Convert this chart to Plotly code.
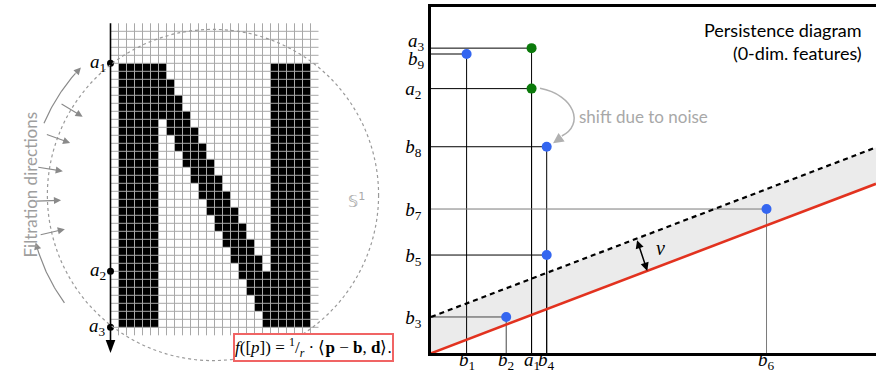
import numpy as np
import plotly.graph_objects as go

W, H = 876, 375

# ---------------- left panel data ----------------
# rasterised letter N: 33 rows x 24 columns, '#' = black pixel
N_BITMAP = [
    "######.............#####",
    "######.............#####",
    "#######............#####",
    "#######............#####",
    "########...........#####",
    "########...........#####",
    "#########..........#####",
    "#####.###..........#####",
    "#####.####.........#####",
    "#####..###.........#####",
    "#####..####........#####",
    "#####...###........#####",
    "#####...####.......#####",
    "#####....###.......#####",
    "#####....####......#####",
    "#####.....###......#####",
    "#####.....####.....#####",
    "#####......###.....#####",
    "#####......####....#####",
    "#####.......###....#####",
    "#####.......####...#####",
    "#####........###...#####",
    "#####........####..#####",
    "#####.........###..#####",
    "#####.........####.#####",
    "#####..........###.#####",
    "#####..........#########",
    "#####...........########",
    "#####...........########",
    "#####............#######",
    "#####............#######",
    "#####.............######",
    "#####.............######",
]
level_names = ["a1", "a2", "a3"]
level_rows = [0, 26, 33]
filtration_dir_angles = [211, 200, 189, 178, 167]   # degrees, screen orientation
rotation_arcs = [(203, 224), (144, 165)]            # degrees (start, arrow end)

# ---------------- right panel data ----------------
birth_names = ["b1", "b2", "a1", "b4", "b6"]
birth_vals = [0.80, 1.69, 2.26, 2.60, 7.54]
death_names = ["a3", "b9", "a2", "b8", "b7", "b5", "b3"]
death_vals = [8.82, 8.65, 7.65, 5.97, 4.17, 2.84, 1.05]
pairs_birth = ["b1", "a1", "a1", "b4", "b6", "b4", "b2"]
pairs_death = ["b9", "a3", "a2", "b8", "b7", "b5", "b3"]
diag_slope = 0.49
noise_nu = 1.05

BLUE = "#3466f0"
GREEN = "#0b7a0b"
SERIF = "Liberation Serif"
SANS = "Lato"

birth = dict(zip(birth_names, birth_vals))
death = dict(zip(death_names, death_vals))

fig = go.Figure()

# ---------------- left panel ----------------
n_rows, n_cols = len(N_BITMAP), len(N_BITMAP[0])
z = [[1 if ch == "#" else None for ch in row] for row in N_BITMAP]
fig.add_trace(go.Heatmap(z=z, x=np.arange(n_cols) + 0.5, y=np.arange(n_rows) + 0.5,
                         colorscale=[[0, "black"], [1, "black"]], zmin=0, zmax=1,
                         showscale=False, hoverinfo="skip", xaxis="x", yaxis="y"))
gx, gy = [], []
for c in range(0, n_cols + 1):
    gx += [c, c, None]; gy += [-5, n_rows + 1, None]
for r in range(-4, n_rows + 1):
    gx += [-1, n_cols + 1, None]; gy += [r, r, None]
fig.add_trace(go.Scatter(x=gx, y=gy, mode="lines", line=dict(color="#a8a8a8", width=1),
                         hoverinfo="skip", xaxis="x", yaxis="y"))
# filtration axis
fig.add_trace(go.Scatter(x=[-1, -1], y=[-5, 35], mode="lines", line=dict(color="black", width=1.6),
                         hoverinfo="skip", xaxis="x", yaxis="y"))
fig.add_trace(go.Scatter(x=[-1] * len(level_rows), y=level_rows, mode="markers",
                         marker=dict(color="black", size=7), hoverinfo="skip", xaxis="x", yaxis="y"))

CX, CY, R = 11.81, 16.46, 20.7
shapes = [
    dict(type="path", xref="x", yref="y", path="M -1.6,34.6 L -0.4,34.6 L -1,36.2 Z",
         fillcolor="black", line=dict(width=0)),
    dict(type="circle", xref="x", yref="y", x0=CX - R, x1=CX + R, y0=CY - R, y1=CY + R,
         line=dict(color="#9a9a9a", width=1.2, dash="dot"), layer="above"),
]
annotations = []
for name, row in zip(level_names, level_rows):
    annotations.append(dict(xref="x", yref="y", x=-1, y=row, xanchor="right", yanchor="middle",
                            xshift=-3, showarrow=False,
                            text=f"<i>{name[0]}</i><sub>{name[1]}</sub>",
                            font=dict(family=SERIF, size=19, color="black")))
for ang in filtration_dir_angles:
    t = np.deg2rad(ang)
    annotations.append(dict(xref="x", yref="y", axref="x", ayref="y",
                            x=CX + 19.0 * np.cos(t), y=CY + 19.0 * np.sin(t),
                            ax=CX + 22.3 * np.cos(t), ay=CY + 22.3 * np.sin(t),
                            showarrow=True, arrowhead=2, arrowsize=1.3, arrowwidth=1.1,
                            arrowcolor="#8a8a8a", text=""))
for a0, a1 in rotation_arcs:
    RA = 22.95
    tt = np.deg2rad(np.linspace(a0, a1 - 2.5, 30))
    fig.add_trace(go.Scatter(x=CX + RA * np.cos(tt), y=CY + RA * np.sin(tt), mode="lines",
                             line=dict(color="#8a8a8a", width=1.2), hoverinfo="skip",
                             xaxis="x", yaxis="y"))
    te, ts = np.deg2rad(a1), np.deg2rad(a1 - 3)
    annotations.append(dict(xref="x", yref="y", axref="x", ayref="y",
                            x=CX + RA * np.cos(te), y=CY + RA * np.sin(te),
                            ax=CX + RA * np.cos(ts), ay=CY + RA * np.sin(ts),
                            showarrow=True, arrowhead=2, arrowsize=1.3, arrowwidth=1.1,
                            arrowcolor="#8a8a8a", text=""))
annotations.append(dict(xref="paper", yref="paper", x=18 / W, y=(H - 185) / H,
                        text="Filtration directions", textangle=-90, showarrow=False,
                        font=dict(family=SANS, size=17, color="#9e9e9e")))
annotations.append(dict(xref="x", yref="y", x=29.8, y=17.1, showarrow=False,
                        text="𝕊<sup>1</sup>", font=dict(family="DejaVu Sans", size=16, color="#aaaaaa")))
annotations.append(dict(xref="paper", yref="paper", x=313.7 / W, y=(H - 362.2) / H,
                        showarrow=False, bgcolor="white", bordercolor="#f06464", borderwidth=2,
                        borderpad=0,
                        text="<i>f</i>([<i>p</i>]) = <sup>1</sup>/<sub><i>r</i></sub> · "
                             "⟨<b>p</b> − <b>b</b>, <b>d</b>⟩.",
                        font=dict(family=SERIF, size=17, color="black")))

# ---------------- right panel ----------------
XMAX = 10
fig.add_trace(go.Scatter(x=[0, XMAX, XMAX, 0, 0],
                         y=[0, diag_slope * XMAX, diag_slope * XMAX + noise_nu, noise_nu, 0],
                         fill="toself", fillcolor="#ebebeb", mode="none", hoverinfo="skip",
                         xaxis="x2", yaxis="y2"))
guide_colors = ["black", "black", "black", "black", "#7a7a7a", "black", "#444444"]
for bn, dn, gc in zip(pairs_birth, pairs_death, guide_colors):
    fig.add_trace(go.Scatter(x=[0, birth[bn], birth[bn]], y=[death[dn], death[dn], 0], mode="lines",
                             line=dict(color=gc, width=1), hoverinfo="skip", xaxis="x2", yaxis="y2"))
fig.add_trace(go.Scatter(x=[0, XMAX], y=[0, diag_slope * XMAX], mode="lines",
                         line=dict(color="#e2321f", width=2.6), hoverinfo="skip", xaxis="x2", yaxis="y2"))
fig.add_trace(go.Scatter(x=[0, XMAX], y=[noise_nu, noise_nu + diag_slope * XMAX], mode="lines",
                         line=dict(color="black", width=2.2, dash="5px,4px"), hoverinfo="skip",
                         xaxis="x2", yaxis="y2"))
pcol = [GREEN if (b[0] == "a" and d[0] == "a") else BLUE for b, d in zip(pairs_birth, pairs_death)]
fig.add_trace(go.Scatter(x=[birth[b] for b in pairs_birth], y=[death[d] for d in pairs_death],
                         mode="markers", marker=dict(color=pcol, size=10, line=dict(width=0)),
                         hoverinfo="skip", xaxis="x2", yaxis="y2"))

# birth labels under the diagram's x axis
for name, val in zip(birth_names, birth_vals):
    annotations.append(dict(xref="x2", yref="y2", x=val, y=0, xanchor="center", yanchor="top",
                            yshift=5, showarrow=False, borderpad=0,
                            text=f"<i>{name[0]}</i><sub>{name[1]}</sub>",
                            font=dict(family=SERIF, size=19, color="black")))
# labels a3 / b9 (too close for plain ticks)
for name, shift in (("a3", 6), ("b9", -6)):
    annotations.append(dict(xref="x2", yref="y2", x=0, y=death[name], xanchor="right",
                            yanchor="middle", xshift=-4, yshift=shift, showarrow=False,
                            text=f"<i>{name[0]}</i><sub>{name[1]}</sub>",
                            font=dict(family=SERIF, size=19, color="black")))
annotations.append(dict(xref="paper", yref="paper", x=864 / W, y=(H - 42) / H, xanchor="right",
                        yanchor="middle", align="right", showarrow=False,
                        text="Persistence diagram<br>(0-dim. features)",
                        font=dict(family=SANS, size=18, color="black")))
annotations.append(dict(xref="x2", yref="y2", x=3.27, y=6.83, xanchor="left", yanchor="middle",
                        showarrow=False, text="shift due to noise",
                        font=dict(family=SANS, size=17, color="#a8a8a8")))
shapes.append(dict(type="path", xref="x2", yref="y2",
                   path="M 2.449,7.659 C 3.236,7.465 3.45,6.6 2.94,6.28",
                   line=dict(color="#b0b0b0", width=1.5)))
annotations.append(dict(xref="x2", yref="y2", axref="x2", ayref="y2", x=2.742, y=6.07,
                        ax=2.96, ay=6.27, showarrow=True, arrowhead=2, arrowsize=1.4,
                        arrowwidth=1.5, arrowcolor="#b0b0b0", text=""))
nx0, nx1 = 4.62, 4.86
annotations.append(dict(xref="x2", yref="y2", axref="x2", ayref="y2",
                        x=nx1, y=diag_slope * nx1, ax=nx0, ay=noise_nu + diag_slope * nx0,
                        showarrow=True, arrowhead=2, startarrowhead=2, arrowside="end+start",
                        arrowsize=1.1, startarrowsize=1.1, arrowwidth=1.5, arrowcolor="black", text=""))
annotations.append(dict(xref="x2", yref="y2", x=5.15, y=3.04, showarrow=False, text="<i>ν</i>",
                        font=dict(family=SERIF, size=20, color="black")))

ytick_names = ["a2", "b8", "b7", "b5", "b3"]
fig.update_layout(
    width=W, height=H, margin=dict(l=0, r=0, t=0, b=0, pad=0, autoexpand=False),
    paper_bgcolor="white", plot_bgcolor="white", showlegend=False,
    xaxis=dict(domain=[0, 430 / W], range=[-118.5 / 8, (430 - 118.5) / 8], visible=False,
               automargin=False),
    yaxis=dict(domain=[0, 1], range=[(H - 63.3) / 8, -63.3 / 8], visible=False, automargin=False),
    xaxis2=dict(domain=[431 / W, 1], range=[0, XMAX], anchor="y2", showgrid=False, zeroline=False,
                showline=True, mirror=True, linecolor="black", linewidth=2.5, ticks="",
                showticklabels=False, automargin=False),
    yaxis2=dict(domain=[(H - 353.3) / H, (H - 7.3) / H], range=[0, 10], anchor="x2",
                showgrid=False, zeroline=False, showline=True, linecolor="black", linewidth=2.5,
                ticks="", tickvals=[death[n] for n in ytick_names], automargin=False,
                ticktext=[f"<i>{n[0]}</i><sub>{n[1]}</sub>" for n in ytick_names],
                tickfont=dict(family=SERIF, size=19, color="black"), ticklabelstandoff=3),
    shapes=shapes, annotations=annotations,
)
page_css = ("var d=document.documentElement, b=document.body;"
            "d.style.overflow='hidden'; b.style.margin='0'; b.style.padding='0'; b.style.overflow='hidden';")
fig.write_html("out.html", config={"displayModeBar": False}, post_script=page_css)
